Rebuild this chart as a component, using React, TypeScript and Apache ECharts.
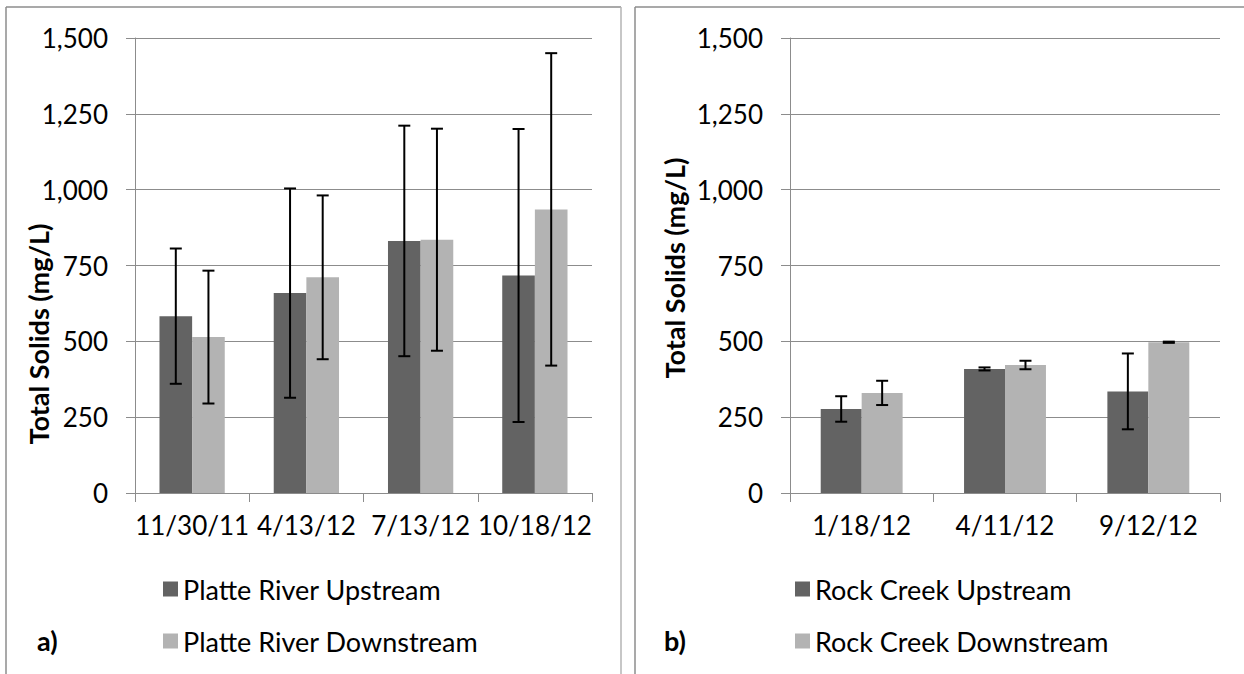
import React, { useEffect, useRef } from "react";
import * as echarts from "echarts";

// Platte River sampling dates and total solids (mean, standard deviation)
const platteDates = ["11/30/11", "4/13/12", "7/13/12", "10/18/12"];
const platteUpstream = [583, 659, 831, 717];
const platteUpstreamSd = [223, 345, 380, 483];
const platteDownstream = [514, 711, 835, 935];
const platteDownstreamSd = [219, 270, 366, 515];

// Rock Creek sampling dates and total solids (mean, standard deviation)
const rockDates = ["1/18/12", "4/11/12", "9/12/12"];
const rockUpstream = [277, 409, 335];
const rockUpstreamSd = [42, 5, 125];
const rockDownstream = [330, 422, 497];
const rockDownstreamSd = [40, 14, 2];

const seriesNames = {
  platteUp: "Platte River Upstream",
  platteDown: "Platte River Downstream",
  rockUp: "Rock Creek Upstream",
  rockDown: "Rock Creek Downstream",
};

const axisTitle = "Total Solids (mg/L)";
const yMin = 0;
const yMax = 1500;
const yStep = 250;

const FONT = "Lato, 'Open Sans', sans-serif";
const DARK = "#636363";
const LIGHT = "#b3b3b3";
const GRID_GRAY = "#8c8c8c";

// Error bars centred on one bar of a two-bar cluster (side -1 left bar, +1 right bar)
function errorBars(name: string, axisIndex: number, values: number[], sds: number[], side: number) {
  return {
    type: "custom",
    name,
    xAxisIndex: axisIndex,
    yAxisIndex: axisIndex,
    z: 10,
    silent: true,
    data: values.map((v, i) => [i, v - sds[i], v + sds[i]]),
    encode: { x: 0, y: [1, 2] },
    renderItem: (_params: any, api: any) => {
      const i = api.value(0);
      const lo = api.coord([i, api.value(1)]);
      const hi = api.coord([i, api.value(2)]);
      const barW = api.size([1, 0])[0] / 3.5;
      const x = lo[0] + (side * barW) / 2;
      const cap = 6;
      const style = { stroke: "#000", lineWidth: 2 };
      return {
        type: "group",
        children: [
          { type: "line", shape: { x1: x, y1: hi[1], x2: x, y2: lo[1] }, style },
          { type: "line", shape: { x1: x - cap, y1: hi[1], x2: x + cap, y2: hi[1] }, style },
          { type: "line", shape: { x1: x - cap, y1: lo[1], x2: x + cap, y2: lo[1] }, style },
        ],
      };
    },
  };
}

function barSeries(name: string, axisIndex: number, values: number[], color: string) {
  return {
    type: "bar",
    name,
    xAxisIndex: axisIndex,
    yAxisIndex: axisIndex,
    data: values,
    barGap: "0%",
    barCategoryGap: "42.857%",
    itemStyle: { color },
  };
}

function categoryAxis(gridIndex: number, dates: string[]) {
  return {
    type: "category",
    gridIndex,
    data: dates,
    axisLine: { show: true, lineStyle: { color: GRID_GRAY, width: 1 } },
    axisTick: { show: true, length: 9, lineStyle: { color: GRID_GRAY, width: 1 } },
    axisLabel: {
      color: "#000",
      fontFamily: FONT,
      fontSize: 26,
      margin: 19,
      interval: 0,
      hideOverlap: false,
    },
  };
}

function valueAxis(gridIndex: number) {
  return {
    type: "value",
    gridIndex,
    min: yMin,
    max: yMax,
    interval: yStep,
    axisLine: { show: true, lineStyle: { color: GRID_GRAY, width: 1 } },
    axisTick: { show: true, length: 9, lineStyle: { color: GRID_GRAY, width: 1 } },
    splitLine: { show: true, lineStyle: { color: GRID_GRAY, width: 1 } },
    axisLabel: {
      color: "#000",
      fontFamily: FONT,
      fontSize: 26,
      margin: 27,
      formatter: (v: number) => v.toLocaleString("en-US"),
    },
  };
}

function legendBlock(left: number, names: string[]) {
  return {
    data: names,
    orient: "vertical",
    left,
    top: 569,
    itemWidth: 15,
    itemHeight: 15,
    itemGap: 22,
    icon: "rect",
    selectedMode: false,
    textStyle: { color: "#000", fontFamily: FONT, fontSize: 27, lineHeight: 30 },
  };
}

function line(x1: number, y1: number, x2: number, y2: number, stroke: string) {
  return { type: "line", silent: true, shape: { x1, y1, x2, y2 }, style: { stroke, lineWidth: 1.5 } };
}

function text(x: number, y: number, str: string, size: number, rotation = 0) {
  return {
    type: "text",
    x,
    y,
    rotation,
    silent: true,
    style: {
      text: str,
      fill: "#000",
      fontFamily: FONT,
      fontWeight: "bold",
      fontSize: size,
      align: rotation ? "center" : "left",
      verticalAlign: "middle",
    },
  };
}

export default function App() {
  const ref = useRef<HTMLDivElement>(null);

  useEffect(() => {
    if (!ref.current) return;
    const chart = echarts.init(ref.current, undefined, { renderer: "svg" });
    chart.setOption({
      animation: false,
      backgroundColor: "#fff",
      grid: [
        { left: 135, top: 38, width: 457, height: 455 },
        { left: 790, top: 38, width: 430, height: 455 },
      ],
      xAxis: [categoryAxis(0, platteDates), categoryAxis(1, rockDates)],
      yAxis: [valueAxis(0), valueAxis(1)],
      legend: [
        legendBlock(158, [seriesNames.platteUp, seriesNames.platteDown]),
        legendBlock(790, [seriesNames.rockUp, seriesNames.rockDown]),
      ],
      series: [
        barSeries(seriesNames.platteUp, 0, platteUpstream, DARK),
        barSeries(seriesNames.platteDown, 0, platteDownstream, LIGHT),
        barSeries(seriesNames.rockUp, 1, rockUpstream, DARK),
        barSeries(seriesNames.rockDown, 1, rockDownstream, LIGHT),
        errorBars("Platte River Upstream SD", 0, platteUpstream, platteUpstreamSd, -1),
        errorBars("Platte River Downstream SD", 0, platteDownstream, platteDownstreamSd, 1),
        errorBars("Rock Creek Upstream SD", 1, rockUpstream, rockUpstreamSd, -1),
        errorBars("Rock Creek Downstream SD", 1, rockDownstream, rockDownstreamSd, 1),
      ],
      graphic: [
        // panel frames
        line(6, 7, 6, 674, GRID_GRAY),
        line(6, 7, 621, 7, GRID_GRAY),
        line(621, 7, 621, 674, "#b4b4b4"),
        line(635, 7, 635, 674, GRID_GRAY),
        line(635, 7, 1244, 7, GRID_GRAY),
        // axis titles and panel letters
        text(38, 334, axisTitle, 27, Math.PI / 2),
        text(674, 268, axisTitle, 27, Math.PI / 2),
        text(37, 640, "a)", 27),
        text(664, 640, "b)", 27),
      ],
    });
    return () => chart.dispose();
  }, []);

  return (
    <div
      ref={ref}
      style={{ position: "fixed", left: 0, top: 0, width: 1244, height: 674, background: "#fff" }}
    />
  );
}
